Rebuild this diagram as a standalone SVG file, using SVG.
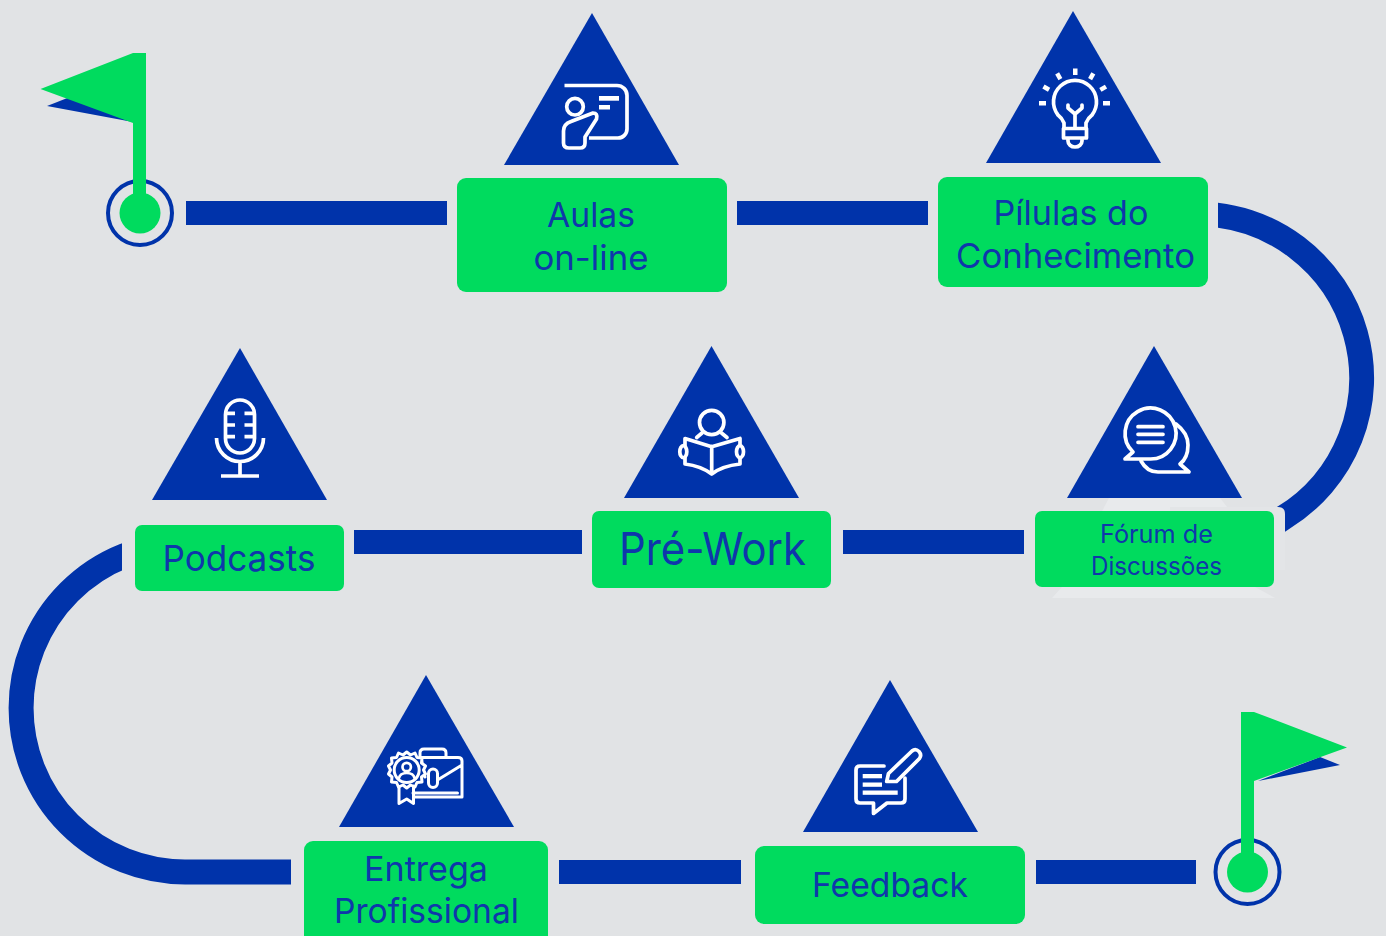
<svg xmlns="http://www.w3.org/2000/svg" width="1386" height="936" viewBox="0 0 1386 936">
<style>
.b{fill:#0033aa}.g{fill:#00db5e}
.i{fill:none;stroke:#fff;stroke-width:3.700;stroke-linejoin:round;stroke-linecap:round}
.w{fill:#fff}
.t{font-family:"Inter","Liberation Sans",sans-serif;fill:#0f37ab;text-anchor:middle;font-weight:400}
.a{fill:none;stroke:#0033aa;stroke-width:25}
</style>
<defs>
<clipPath id="cr"><rect x="1218" y="150" width="168" height="420"/></clipPath>
<clipPath id="cl"><rect x="0" y="500" width="122" height="400"/><rect x="122" y="700" width="170" height="200"/></clipPath>
</defs>
<rect width="1386" height="936" fill="#e1e3e5"/>
<g id="connectors">
<rect class="b" x="186" y="201" width="261" height="24"/>
<rect class="b" x="737" y="201" width="191" height="24"/>
<path class="a" clip-path="url(#cr)" d="M1197.500 214A164 164 0 0 1 1283 518L1250 540"/>
<rect class="b" x="843" y="530" width="181" height="24"/>
<rect class="b" x="354" y="530" width="228" height="24"/>
<path class="a" clip-path="url(#cl)" d="M185 544A164 164 0 0 0 185 872H291"/>
<rect class="b" x="559" y="860" width="182" height="24"/>
<rect class="b" x="1036" y="860" width="160" height="24"/>
</g>
<g id="start-flag">
<circle cx="140" cy="213" r="32" fill="none" stroke="#0033aa" stroke-width="4"/>
<polygon class="b" points="47,106 70,97 133,122"/>
<polygon class="g" points="40.500,89 133,53 146,53 146,195 133,195 133,123"/>
<circle class="g" cx="140" cy="213" r="20.500"/>
</g>
<g id="aulas">
<polygon class="b" points="592,13 679,165 504,165"/>
<path class="i" style="stroke-linecap:butt" d="M564.500 85.500H617a10 10 0 0 1 10 10V129a9 9 0 0 1-9 9H589"/>
<circle class="i" cx="575" cy="106.700" r="8.300"/>
<path class="i" d="M593 113L571 121.500Q563.500 124 563.500 131V143Q563.500 148 569 148H580Q585 148 585 143V137L596.500 119Q598 113 593 113Z"/>
<rect class="w" x="599" y="96" width="20" height="4.700"/><rect class="w" x="599" y="105" width="11" height="4.500"/>
<rect class="g" x="457" y="178" width="270" height="114" rx="9"/>
<text class="t" font-size="34" x="591" y="227" textLength="88" lengthAdjust="spacingAndGlyphs">Aulas</text>
<text class="t" font-size="34" x="591" y="270" textLength="115" lengthAdjust="spacingAndGlyphs">on-line</text>
</g>
<g id="pilulas">
<polygon class="b" points="1073,11 1161,163 986,163"/>
<path class="i" d="M1064 127.500V123Q1062 118 1058 115A21.500 21.500 0 1 1 1092 115Q1088 118 1086 123V127.500"/>
<rect class="i" x="1063.500" y="128.500" width="23" height="9.500"/>
<path class="i" d="M1068 139.500V141a7 6 0 0 0 14 0V139.500M1075 127V114L1068 108V105M1075 114L1082 108V105"/>
<g class="w">
<rect x="1073" y="68.500" width="4.500" height="6.500"/>
<rect x="1056.500" y="73" width="4.500" height="6.500" transform="rotate(-30 1058.700 76.200)"/>
<rect x="1089.500" y="73" width="4.500" height="6.500" transform="rotate(30 1091.700 76.200)"/>
<rect x="1044" y="85" width="4.500" height="6.500" transform="rotate(-60 1046.200 88.200)"/>
<rect x="1101" y="85" width="4.500" height="6.500" transform="rotate(60 1103.200 88.200)"/>
<rect x="1039" y="101" width="7" height="4.500"/>
<rect x="1103" y="101" width="7" height="4.500"/>
</g>
<rect class="g" x="938" y="177" width="270" height="110" rx="9"/>
<text class="t" font-size="34" x="1071" y="225" textLength="155" lengthAdjust="spacingAndGlyphs">Pílulas do</text>
<text class="t" font-size="34" x="1075.500" y="268" textLength="239" lengthAdjust="spacingAndGlyphs">Conhecimento</text>
</g>
<g id="forum">
<polygon points="1109,498 1220,498 1231,512 1255,587 1275,598 1052,598 1062,587" fill="#e8eaec"/>
<path d="M1170 507H1278Q1285 507 1285 514V570H1274V587H1170Z" fill="#e3e5e7"/>
<polygon class="b" points="1154,346 1242,498 1067,498"/>
<path class="i" d="M1133 452A25.500 25.500 0 1 1 1150 459H1125L1133 452Z"/>
<path class="i" d="M1176 424Q1188 433 1188 445Q1188 458 1180 464L1189 472H1158Q1147 472 1141 461"/>
<path class="i" d="M1138 426.700H1163M1138 434.300H1163M1138 442.300H1163"/>
<rect class="g" x="1035" y="511" width="239" height="76" rx="7"/>
<text class="t" font-size="25" x="1156.500" y="543" textLength="113" lengthAdjust="spacingAndGlyphs">Fórum de</text>
<text class="t" font-size="25" x="1156.500" y="575" textLength="131" lengthAdjust="spacingAndGlyphs">Discussões</text>
</g>
<g id="pre-work">
<polygon class="b" points="711.500,346 799,498 624,498"/>
<circle class="i" cx="711.700" cy="422.500" r="12.200"/>
<path class="i" d="M685 438.500L711.700 446.700L740 438.500V464Q722 466 711.700 474Q701 466 685 464ZM711.700 446.700V474M696.700 437.500L702 433M727 437.500L721.500 433"/>
<ellipse class="i" cx="683.300" cy="451.700" rx="3.500" ry="6" style="fill:#0033aa"/>
<ellipse class="i" cx="740" cy="451.700" rx="3.500" ry="6" style="fill:#0033aa"/>
<rect class="g" x="592" y="511" width="239" height="77" rx="7"/>
<text class="t" font-size="45" x="712.500" y="565" textLength="187" lengthAdjust="spacingAndGlyphs">Pré-Work</text>
</g>
<g id="podcasts">
<polygon class="b" points="240,348 327,500 152,500"/>
<rect class="i" x="225.500" y="400" width="29" height="53" rx="14.500"/>
<path d="M225 413.300H235M244.500 413.300H254.500M225 425H235M244.500 425H254.500M225 436.700H235M244.500 436.700H254.500" class="i" style="stroke-linecap:butt"/>
<path class="i" style="stroke-linecap:butt" d="M216.500 438A23.500 23.500 0 0 0 263.500 438M240 461.700V475M221 476H259"/>
<rect class="g" x="135" y="525" width="209" height="66" rx="7"/>
<text class="t" font-size="36" x="239" y="571" textLength="153" lengthAdjust="spacingAndGlyphs">Podcasts</text>
</g>
<g id="entrega">
<polygon class="b" points="426,675 514,827 339,827"/>
<path class="i" style="stroke-width:3" d="M420 757V753Q420 749 424 749H442Q446 749 446 753V757.500M421 757.500H458Q462 757.500 462 761V797H414M413 793H457.500M437.500 780L462 765M428.500 773.500a4.500 4.500 0 0 1 9 0V783a4.500 4.500 0 0 1-9 0ZM421 757.500L425 777"/>
<path style="fill:#0033aa;stroke:#fff;stroke-width:3;stroke-linejoin:round" d="M406.700 752L410.500 755L415 753L417 757.500L422 758L421.500 763L425.500 766L423.500 770L425.500 774L421.500 777L422 782L417 782.500L415 787L410.500 785L406.700 788L403 785L398.500 787L396.500 782.500L391.500 782L392 777L388.500 774L390.500 770L388.500 766L392 763L391.500 758L396.500 757.500L398.500 753L403 755Z"/>
<circle class="i" cx="406.700" cy="770" r="12.500" style="stroke-width:3"/>
<circle class="i" cx="406.700" cy="767" r="4.200" style="stroke-width:2.700"/>
<path class="i" style="stroke-width:2.700" d="M399 778Q400 773 406.700 773Q413.500 773 414.500 778"/>
<path class="i" style="stroke-width:3" d="M399 787V803.500L406.700 799L413.500 803.500V786"/>
<rect class="g" x="304" y="841" width="244" height="105" rx="9"/>
<text class="t" font-size="34" x="426" y="881" textLength="124" lengthAdjust="spacingAndGlyphs">Entrega</text>
<text class="t" font-size="34" x="426.500" y="923" textLength="185" lengthAdjust="spacingAndGlyphs">Profissional</text>
</g>
<g id="feedback">
<polygon class="b" points="890,680 978,832 803,832"/>
<path class="i" d="M884 766H860Q856 766 856 770V799Q856 803 860 803H873.500V813.500L887 803H901Q905 803 905 799V778"/>
<path class="i" d="M886.700 781.500L888.500 773.500L912 751Q915.500 748 919 751.500Q922 755 919.500 758.500L896.500 781.500Z"/>
<rect class="w" x="862.700" y="774" width="19.300" height="4.300"/>
<rect class="w" x="862.700" y="782.500" width="19.300" height="4.300"/>
<rect class="w" x="862.700" y="790.500" width="35" height="4.300"/>
<rect class="g" x="755" y="846" width="270" height="78" rx="9"/>
<text class="t" font-size="34" x="890" y="897" textLength="156" lengthAdjust="spacingAndGlyphs">Feedback</text>
</g>
<g id="end-flag">
<circle cx="1247.500" cy="872" r="32" fill="none" stroke="#0033aa" stroke-width="4"/>
<polygon class="b" points="1340,765 1320,757 1258,781"/>
<polygon class="g" points="1347,747.500 1254,712 1241,712 1241,855 1254,855 1254,781"/>
<circle class="g" cx="1247.500" cy="872" r="20.500"/>
</g>
</svg>
